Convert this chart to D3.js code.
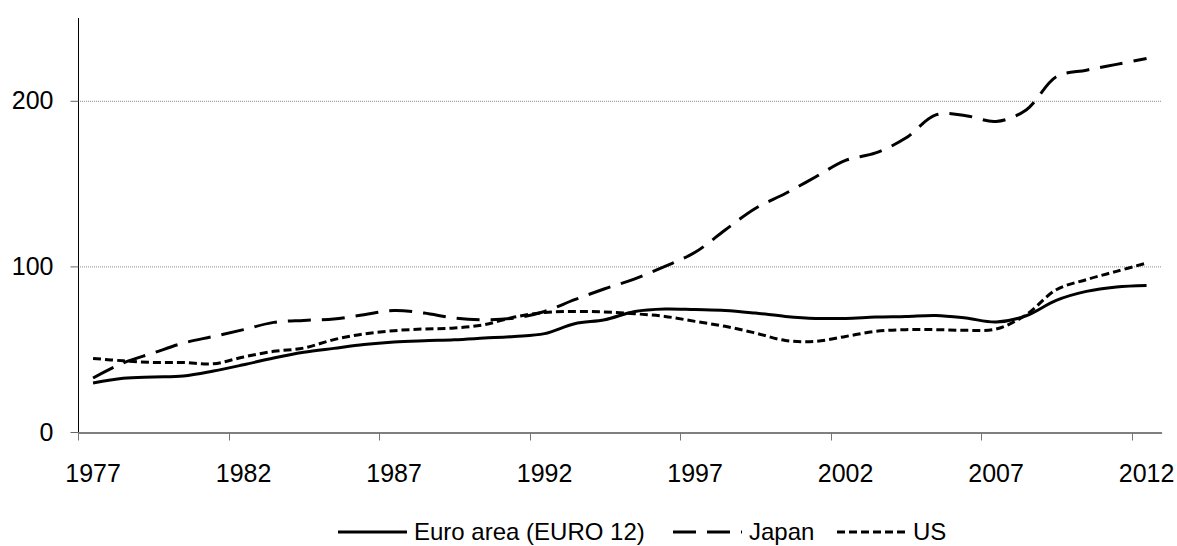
<!DOCTYPE html>
<html>
<head>
<meta charset="utf-8">
<script src="https://cdn.jsdelivr.net/npm/d3@7"></script>
<style>
  body { margin: 0; background: #fff; }
  text { font-family: "Liberation Sans", Arial, sans-serif; fill: #000; }
</style>
</head>
<body>
<div id="chart"></div>
<script>
// years on the category axis
var years = d3.range(1977, 2013);
var tickYears = [1977, 1982, 1987, 1992, 1997, 2002, 2007, 2012];
var yTicks = [0, 100, 200];

// series values, one per year
var euroArea = [29.6, 32.4, 33.2, 33.8, 36.8, 40.6, 44.7, 48.1, 50.5, 52.8,
  54.3, 55.1, 55.7, 56.7, 57.7, 59.4, 65.4, 67.8, 72.8, 74.3,
  73.9, 73.4, 71.8, 69.8, 68.6, 68.6, 69.4, 69.8, 70.4, 68.8,
  66.4, 70.2, 79.5, 84.9, 87.6, 88.5];
var japan = [32.6, 41.7, 47.7, 53.7, 57.7, 61.8, 66.2, 67.4, 68.2, 70.8,
  73.4, 71.8, 68.8, 67.8, 68.8, 72.8, 79.9, 86.5, 92.5, 100,
  108.5, 122, 135, 144, 154, 164, 168.5, 177.5, 191.5, 191,
  187.5, 194.5, 214.5, 218.5, 222, 225.5];
var us = [44.4, 43, 42, 42, 41.2, 45.3, 48.7, 50.7, 55.8, 59.2,
  61.2, 62.2, 62.8, 64.8, 69.4, 72.2, 72.8, 72.5, 71.4, 69.8,
  66.8, 63.8, 59.8, 55.3, 54.7, 57.7, 60.8, 61.8, 61.8, 61.4,
  62.2, 70.8, 85.9, 92, 97, 102];

var seriesNames = ["Euro area (EURO 12)", "Japan", "US"];
var seriesDash = [null, "23,11", "8,4"];

var width = 1177, height = 546;
var margin = { top: 18, right: 15, bottom: 114, left: 78 };

var svg = d3.select("#chart")
  .append("svg")
  .attr("width", width)
  .attr("height", height);

var x = d3.scaleBand()
  .domain(years)
  .range([margin.left, margin.left + 36 * 30.1])
  .padding(0);

var y = d3.scaleLinear()
  .domain([0, 250])
  .range([height - margin.bottom, margin.top]);

// gridlines
svg.append("g")
  .selectAll("line")
  .data(yTicks.filter(function (d) { return d > 0; }))
  .enter().append("line")
  .attr("x1", x.range()[0])
  .attr("x2", x.range()[1])
  .attr("y1", function (d) { return y(d) + 0.5; })
  .attr("y2", function (d) { return y(d) + 0.5; })
  .attr("stroke", "#8c8c8c")
  .attr("stroke-width", 1)
  .attr("stroke-dasharray", "1,1");

// y axis
var yAxis = svg.append("g")
  .attr("transform", "translate(" + (margin.left + 0.5) + ",0)")
  .call(d3.axisLeft(y).tickValues(yTicks).tickSize(8).tickPadding(17)
    .tickFormat(d3.format("d")));
yAxis.select(".domain").attr("stroke", "#000").attr("d", "M0," + y(250) + "V" + y(0));
yAxis.selectAll(".tick line").attr("stroke", "#666");
yAxis.selectAll("text").style("font-size", "25px").attr("fill", "#000");

// x axis: labels centred on categories, ticks on category boundaries
var xAxis = svg.append("g")
  .attr("transform", "translate(0," + (y(0) + 0.5) + ")")
  .call(d3.axisBottom(x).tickValues(tickYears).tickSize(0).tickPadding(32));
xAxis.select(".domain").attr("stroke", "#000");
xAxis.selectAll("text").style("font-size", "25px").attr("fill", "#000");
xAxis.selectAll(".tickmark")
  .data(tickYears)
  .enter().append("line")
  .attr("class", "tickmark")
  .attr("x1", function (d) { return Math.round(x(d)) + 0.5; })
  .attr("x2", function (d) { return Math.round(x(d)) + 0.5; })
  .attr("y1", 0)
  .attr("y2", 8)
  .attr("stroke", "#777");

// lines
var line = d3.line()
  .x(function (d, i) { return x(years[i]) + x.bandwidth() / 2; })
  .y(function (d) { return y(d); })
  .curve(d3.curveCatmullRom.alpha(0.5));

[euroArea, japan, us].forEach(function (vals, k) {
  svg.append("path")
    .datum(vals)
    .attr("fill", "none")
    .attr("stroke", "#000")
    .attr("stroke-width", 3)
    .attr("stroke-dasharray", seriesDash[k])
    .attr("d", line);
});

// legend
var legendX = [338, 673, 837];
var legend = svg.append("g").attr("transform", "translate(0,532)");
seriesNames.forEach(function (name, k) {
  legend.append("line")
    .attr("x1", legendX[k])
    .attr("x2", legendX[k] + 69)
    .attr("y1", 0)
    .attr("y2", 0)
    .attr("stroke", "#000")
    .attr("stroke-width", 3)
    .attr("stroke-dasharray", seriesDash[k]);
  legend.append("text")
    .attr("x", legendX[k] + 76)
    .attr("y", 8)
    .style("font-size", "24px")
    .text(name);
});
</script>
</body>
</html>
